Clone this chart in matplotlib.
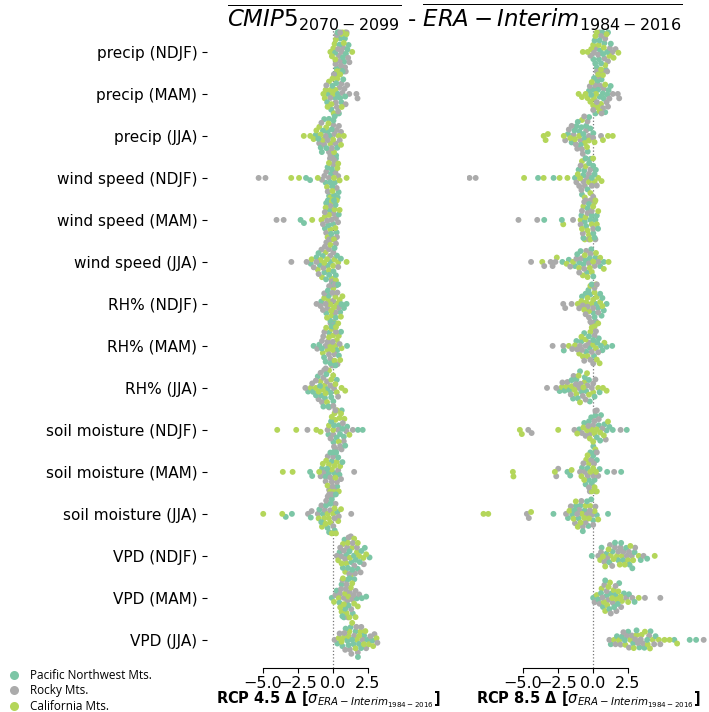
import numpy as np
import matplotlib
matplotlib.use("Agg")
import matplotlib.pyplot as plt
from matplotlib.lines import Line2D

# ------------------------------------------------------------
# Categories (top to bottom) and regions
variables = ["precip (NDJF)", "precip (MAM)", "precip (JJA)",
             "wind speed (NDJF)", "wind speed (MAM)", "wind speed (JJA)",
             "RH% (NDJF)", "RH% (MAM)", "RH% (JJA)",
             "soil moisture (NDJF)", "soil moisture (MAM)", "soil moisture (JJA)",
             "VPD (NDJF)", "VPD (MAM)", "VPD (JJA)"]
regions = ["Pacific Northwest Mts.", "Rocky Mts.", "California Mts."]
region_colors = ["#7cc6a6", "#ababab", "#b4d65a"]

# RCP 4.5 changes, one string of model values per variable
pnw_45 = [
    "0.27 0.53 0.64 0.81 0.93 0.38 0.72 1.04 0.16 0.58 0.47 0.86 1.12 0.33 0.69",
    "-0.34 0.06 0.18 0.43 0.61 -0.12 0.29 0.09 0.52 -0.41 0.24 0.74 -0.03 0.36 0.88",
    "-1.23 -0.87 -0.62 -0.37 -0.18 0.04 0.23 -0.71 -0.28 0.13 -0.46 -1.04 -0.09 0.31 -0.79",
    "-1.92 -1.63 -0.52 -0.27 -0.13 0.03 0.14 0.22 0.34 -0.19 0.41 -0.38 -0.04 0.09 -0.08",
    "-2.31 -2.07 -0.57 -0.36 -0.22 0.02 0.13 0.27 -0.12 0.19 -0.31 -0.03 0.42 -0.48 0.08",
    "-1.58 -1.17 -0.93 -0.61 -0.37 -0.16 0.04 0.29 0.57 -0.72 -0.27 0.12 -1.03 0.21 -0.49",
    "-0.83 -0.47 -0.29 -0.06 0.12 0.27 0.52 0.79 0.98 -0.18 0.03 0.21 0.38 -0.36 0.61",
    "-1.38 -0.97 -0.63 -0.27 0.04 0.31 0.58 1.01 -0.79 -0.17 0.12 0.43 -0.52 0.19 -0.08",
    "-1.77 -1.42 -1.08 -0.84 -0.57 -0.38 -0.17 0.03 0.28 -1.21 -0.68 -0.31 -0.92 -0.47 -0.12",
    "-0.32 0.04 0.17 0.42 0.63 0.78 1.02 0.27 0.51 0.08 0.69 -0.13 0.88 1.79 2.13",
    "-1.63 -1.48 -0.77 -0.52 -0.28 -0.07 0.12 0.31 0.47 -0.41 -0.18 0.02 0.23 0.38 0.68",
    "-3.37 -2.93 -1.58 -0.97 -0.72 -0.48 -0.27 -0.08 0.13 0.32 -0.83 -0.38 -0.17 0.03 0.21",
    "0.48 0.83 0.97 1.32 1.51 1.77 2.04 2.28 2.62 1.08 1.63 0.71 1.38 1.92 1.19",
    "-0.08 0.27 0.62 0.79 1.03 1.18 1.42 1.71 2.07 0.47 0.88 1.12 1.53 0.68 2.38",
    "0.32 0.68 1.03 1.27 1.62 1.87 2.23 2.47 2.83 1.12 1.48 1.79 2.02 1.37 0.91",
]
rocky_45 = [
    "0.42 0.63 0.87 1.18 0.19 0.48 0.73 0.98 0.82 0.27 0.57 1.09 0.37 0.92 0.52",
    "1.68 1.76 0.47 0.83 1.02 0.28 -0.18 0.62 0.07 0.38 0.91 1.17 0.21 0.68 -0.47",
    "-0.98 -0.63 -0.28 0.03 0.27 0.58 -0.82 -0.17 0.12 0.43 -0.52 -0.07 0.19 -0.38 0.49",
    "-5.31 -4.82 -0.78 -0.47 -0.28 -0.12 0.02 0.18 0.38 -0.21 0.11 0.27 -0.37 -0.02 -0.61",
    "-4.03 -3.52 -0.71 -0.48 -0.27 -0.09 0.04 0.22 0.37 -0.18 0.12 0.29 -0.41 -0.02 -0.58",
    "-2.97 -1.88 -1.37 -1.02 -0.68 -0.47 -0.28 0.03 0.22 -0.82 -0.08 -0.57 0.38 -1.18 -0.19",
    "-1.17 -0.88 -0.62 -0.38 -0.17 0.02 0.19 0.41 -0.71 -0.08 0.12 -0.27 0.32 -0.52 -0.03",
    "-1.12 -0.78 -0.52 -0.28 -0.07 0.12 0.33 -0.61 -0.18 0.02 0.22 -0.38 0.48 -0.69 -0.02",
    "-1.97 -1.48 -1.03 -0.68 -0.42 -0.17 0.08 -1.22 -0.78 -0.51 -0.27 0.03 -0.62 -0.88 0.37",
    "-1.82 -0.38 -0.17 0.03 0.22 0.37 0.62 0.78 0.97 1.42 0.28 0.52 0.08 0.71 0.18",
    "1.52 -0.88 -0.62 -0.37 -0.18 0.02 0.21 0.38 0.58 -0.27 -0.08 0.12 0.29 -0.52 -0.02",
    "-1.78 -1.52 -1.08 -0.82 -0.58 -0.37 -0.18 0.03 0.19 0.42 1.31 -0.48 -0.27 -0.07 0.12",
    "0.28 0.62 0.88 1.12 1.28 1.53 1.72 1.98 2.21 0.79 1.17 1.58 1.02 1.42 0.52",
    "0.18 0.52 0.78 1.02 1.21 1.38 1.62 1.88 0.68 1.08 1.31 0.92 0.58 1.48 0.97",
    "0.12 0.48 0.88 1.21 1.52 1.78 2.12 2.38 2.68 2.97 3.18 1.68 1.32 2.03 0.82",
]
cal_45 = [
    "-0.18 0.03 0.21 0.38 0.62 0.88 1.38 0.12 0.28 0.51 0.68 -0.07 0.78 0.17 0.97",
    "-0.68 -0.52 -0.28 0.02 0.18 0.41 -0.58 0.08 -0.17 0.31 0.52 -0.38 0.63 -0.03 -0.11",
    "-2.08 -1.62 -1.38 -0.97 -0.72 -0.48 -0.18 0.08 0.42 0.78 -0.88 -0.32 0.02 -1.18 0.58",
    "-2.98 -2.42 -1.08 0.98 -0.42 -0.18 0.02 0.17 0.32 0.48 -0.12 0.08 -0.28 -0.03 0.38",
    "-1.48 -0.82 -0.58 -0.38 -0.18 0.03 0.12 0.28 -0.08 0.18 -0.28 -0.02 0.48 -0.52 0.07",
    "-1.52 -1.08 -0.78 -0.52 -0.28 -0.08 0.12 0.38 0.98 -0.62 -0.18 0.02 -0.88 0.22 -0.42",
    "-0.62 -0.32 -0.08 0.12 0.28 0.48 0.68 -0.18 0.03 0.18 0.38 -0.42 0.57 0.08 -0.12",
    "-0.72 -0.38 -0.18 0.02 0.18 0.42 0.62 -0.48 -0.08 0.12 0.28 -0.28 0.52 -0.02 0.22",
    "-1.58 -1.22 -0.88 -0.58 -0.28 0.02 0.28 0.62 0.88 -0.72 -0.42 -0.12 0.18 -1.02 -0.52",
    "-3.98 -2.62 -1.18 -0.88 -0.28 0.02 0.18 0.42 0.58 0.82 0.12 0.28 0.48 -0.08 1.18",
    "-3.58 -2.88 -0.98 -0.72 -0.48 -0.28 -0.08 0.12 0.28 0.52 -0.18 0.02 0.18 -0.38 0.42",
    "-4.98 -3.62 -1.02 -0.78 -0.62 -0.38 -0.18 0.02 0.22 0.38 0.58 -0.52 -0.28 -0.08 0.12",
    "0.38 0.72 0.98 1.22 1.38 1.72 1.88 2.18 0.88 1.28 1.52 0.62 1.08 1.78 2.38",
    "0.08 0.42 0.62 0.88 1.12 1.28 1.52 1.78 0.72 0.98 1.18 0.78 0.52 1.38 1.62",
    "0.42 0.78 1.12 1.38 1.72 1.98 2.32 2.58 2.88 3.12 1.62 1.88 1.18 2.22 0.62",
]

# RCP 8.5 changes
pnw_85 = [
    "0.03 0.28 0.52 0.68 0.92 1.08 0.17 0.43 0.58 0.82 1.02 0.12 0.47 0.73 1.28",
    "-0.28 0.04 0.32 0.48 0.78 1.03 1.27 0.18 0.62 0.88 0.37 0.08 0.71 1.12 -0.12",
    "-1.78 -1.52 -1.18 -0.97 -0.82 -0.58 -0.37 -0.18 0.03 -1.32 -0.88 -0.48 -0.68 -1.08 -0.27",
    "-3.92 -2.81 -1.28 -1.02 -0.78 -0.62 -0.38 -0.17 0.02 0.21 -0.68 -0.27 -0.52 -0.08 0.12",
    "-3.48 -2.22 -0.82 -0.58 -0.37 -0.18 0.03 0.18 0.37 -0.48 -0.28 -0.08 0.12 -0.68 0.28",
    "-2.18 -1.72 -1.28 -0.98 -0.68 -0.42 -0.12 0.18 0.52 0.78 -0.88 -0.52 -0.22 0.03 -1.12",
    "-0.78 -0.52 -0.18 0.03 0.22 0.38 0.62 0.78 0.98 -0.32 0.12 0.28 0.52 -0.08 0.68",
    "-2.08 -1.18 -0.82 -0.48 -0.22 0.08 0.42 0.68 0.98 1.38 -0.62 -0.28 0.02 0.32 0.58",
    "-2.38 -2.02 -1.68 -1.42 -1.08 -0.82 -0.48 -0.22 0.12 0.48 -1.18 -0.92 -0.58 -1.52 -0.28",
    "-0.98 -0.62 -0.28 0.03 0.18 0.42 0.58 0.82 0.98 1.18 1.42 2.42 -0.12 0.28 0.52",
    "-1.82 -1.62 -0.78 -0.52 -0.28 -0.08 0.12 0.28 0.48 1.02 2.02 -0.38 -0.18 0.02 0.18",
    "-2.82 -1.78 -1.48 -1.22 -0.88 -0.58 -0.32 0.02 0.28 1.08 -1.02 -0.72 -0.42 -0.12 -1.32",
    "-0.08 0.62 0.98 1.42 1.82 2.18 2.62 2.98 3.42 3.88 1.18 1.58 2.02 2.38 2.82",
    "0.02 0.38 0.72 0.98 1.28 1.62 1.88 2.22 2.58 2.98 0.88 1.18 1.52 0.58 1.78",
    "1.28 1.72 2.08 2.52 2.88 3.32 3.68 4.12 4.48 5.82 6.92 7.38 2.28 3.12 3.88",
]
rocky_85 = [
    "-0.18 0.22 0.48 0.82 1.08 1.38 1.62 0.28 0.58 0.88 1.22 0.38 0.68 1.02 0.08",
    "1.78 1.88 -0.22 0.18 0.52 0.78 1.08 1.42 0.38 0.72 0.98 0.28 0.62 1.18 0.02",
    "-1.98 -1.72 -1.38 -1.12 -0.88 -0.72 -0.48 -0.28 0.02 0.58 -1.22 -0.78 -0.38 -1.52 -0.62",
    "-8.82 -8.38 -1.18 -0.98 -0.82 -0.58 -0.42 -0.18 0.02 0.28 -0.68 -0.52 -0.28 -0.08 -0.88",
    "-5.32 -3.98 -1.42 -0.88 -0.62 -0.38 -0.18 0.02 0.18 -0.52 -0.28 -0.08 0.12 -0.72 -0.78",
    "-4.42 -3.48 -3.02 -2.88 -2.68 -1.62 -1.18 -0.82 -0.48 -0.18 0.12 0.38 -0.62 -0.28 -0.98",
    "-2.12 -1.98 -1.52 -0.98 -0.72 -0.38 -0.18 0.02 0.22 0.38 -0.52 -0.08 0.12 0.28 -0.28",
    "-2.88 -2.12 -1.48 -1.12 -0.78 -0.52 -0.28 -0.08 0.12 0.38 -0.62 -0.18 0.02 0.22 -0.92",
    "-3.28 -2.62 -2.18 -1.82 -1.38 -1.02 -0.72 -0.38 -0.08 0.18 -1.22 -0.88 -0.52 -1.58 0.02",
    "-4.38 -4.62 -1.32 -0.78 -0.52 -0.22 0.02 0.18 0.42 0.68 0.92 1.98 0.12 -0.32 0.28",
    "-2.62 -2.48 -0.92 -0.58 -0.38 -0.22 0.02 0.18 0.38 1.52 -0.28 -0.12 0.08 -0.68 0.28",
    "-4.58 -4.72 -1.92 -1.58 -1.28 -0.98 -0.72 -0.42 -0.08 0.18 -0.82 -0.52 -0.22 0.02 -1.12",
    "0.38 0.82 1.22 1.58 1.98 2.42 2.78 3.02 3.62 1.02 1.38 1.82 2.18 0.58 2.58",
    "0.12 0.48 0.82 1.08 1.42 1.68 2.02 2.38 2.82 3.72 4.82 0.98 1.28 0.68 1.62",
    "1.18 1.62 1.98 2.42 2.78 3.22 3.58 4.02 4.38 4.82 7.92 2.58 3.02 3.42 2.18",
]
cal_85 = [
    "-0.72 -0.38 0.02 0.28 0.62 0.88 1.18 1.48 1.82 -0.12 0.42 0.78 0.98 0.18 0.58",
    "-1.02 -0.78 -0.52 -0.18 0.08 0.32 0.58 0.88 -0.38 0.02 0.22 0.48 -0.08 0.38 0.72",
    "-3.52 -3.38 -3.22 -2.08 -1.62 -0.98 -0.58 -0.28 0.12 0.72 1.08 1.42 -0.78 -0.42 -1.28",
    "-4.92 -3.52 -2.38 -1.82 -1.08 -0.78 -0.52 -0.18 0.12 0.38 0.62 -0.58 -0.28 -0.92 0.02",
    "-2.12 -0.88 -0.68 -0.52 -0.28 -0.08 0.12 0.28 -0.58 -0.38 -0.18 0.02 0.18 -0.78 0.38",
    "-3.62 -2.58 -1.88 -1.42 -0.98 -0.72 -0.38 -0.08 0.22 0.52 0.78 1.12 -0.58 -0.22 0.02",
    "-1.08 -0.82 -0.48 -0.28 -0.12 0.12 0.28 0.52 0.68 -0.62 -0.18 0.02 0.22 0.38 -0.38",
    "-1.72 -1.28 -0.98 -0.72 -0.38 -0.18 0.02 0.22 0.48 0.82 -0.52 -0.08 0.12 0.28 -0.82",
    "-2.22 -1.88 -1.52 -1.18 -0.92 -0.58 -0.28 0.02 0.38 0.72 0.98 -1.02 -0.68 -0.42 -1.32",
    "-5.08 -5.22 -2.48 -1.12 -0.68 -0.42 -0.08 0.12 0.28 0.52 0.78 1.08 -0.22 0.18 0.02",
    "-5.72 -5.68 -2.72 -1.52 -0.82 -0.48 -0.28 -0.08 0.12 0.28 -0.62 -0.18 0.02 0.22 -0.38",
    "-7.82 -7.48 -4.42 -1.68 -1.38 -1.08 -0.78 -0.52 -0.18 0.12 0.38 -0.88 -0.62 -0.28 -1.22",
    "0.52 0.88 1.28 1.72 2.08 2.52 2.88 3.28 4.42 1.12 1.48 1.92 2.28 0.72 2.68",
    "0.28 0.62 0.88 1.22 1.48 1.82 2.08 2.52 3.28 1.02 1.38 0.78 1.72 1.12 1.98",
    "1.52 1.88 2.32 2.68 3.12 3.48 3.92 4.28 4.72 5.12 5.48 6.02 2.92 3.72 4.08",
]

xticks = [-5.0, -2.5, 0.0, 2.5]
xlim = (-9.0, 8.3)


# ------------------------------------------------------------
def swarm_offsets(vals_px, sep, limit):
    """beeswarm offsets (pixels) with the points sorted by value"""
    off = np.zeros(len(vals_px))
    placed = []
    for i in np.argsort(vals_px, kind="stable"):
        x = vals_px[i]
        near = [(qx, qy) for qx, qy in placed if abs(qx - x) < sep]
        cands = [0.0]
        for qx, qy in near:
            h = np.sqrt(sep ** 2 - (qx - x) ** 2)
            cands += [qy + h, qy - h]
        cands.sort(key=abs)
        for c in cands:
            if all((qx - x) ** 2 + (qy - c) ** 2 >= sep ** 2 - 1e-6 for qx, qy in near):
                break
        placed.append((x, c))
        off[i] = np.clip(c, -limit, limit)
    return off


def draw_panel(ax, pnw, rocky, cal):
    ax.set_xlim(*xlim)
    ax.set_ylim(14.67, -0.57)
    tr = ax.transData
    x_px = tr.transform((1, 0))[0] - tr.transform((0, 0))[0]
    y_px = abs(tr.transform((0, 1))[1] - tr.transform((0, 0))[1])
    ax.axvline(0, color="#777777", linestyle=":", linewidth=0.9, zorder=0)
    for k in range(len(variables)):
        sets = [np.array(s[k].split(), float) for s in (pnw, rocky, cal)]
        vals, cols = [], []
        n = max(len(a) for a in sets)
        for j in range(n):
            for r, a in enumerate(sets):
                if j < len(a):
                    vals.append(a[j])
                    cols.append(region_colors[r])
        vals = np.array(vals)
        off = swarm_offsets(vals * x_px, 4.6, 19.5) / y_px
        ax.scatter(vals, k + off, s=18, c=cols, linewidths=0, zorder=2)
    ax.set_xticks(xticks)
    ax.set_xticklabels([f"{t:.1f}".replace("-", "\u2212") for t in xticks], fontsize=11.5)
    ax.tick_params(axis="x", pad=2)
    ax.spines["bottom"].set_bounds(xticks[0], xticks[-1])
    for side in ["top", "right", "left"]:
        ax.spines[side].set_visible(False)


fig = plt.figure(figsize=(7.09, 7.12), dpi=100)
W, H = 709.0, 712.0
ax1 = fig.add_axes([207 / W, 1 - 668 / H, 242 / W, 640 / H])
ax2 = fig.add_axes([467 / W, 1 - 668 / H, 242 / W, 640 / H])

draw_panel(ax1, pnw_45, rocky_45, cal_45)
draw_panel(ax2, pnw_85, rocky_85, cal_85)

ax1.set_yticks(range(len(variables)))
ax1.set_yticklabels(variables, fontsize=11)
ax2.set_yticks([])

sig = r"[$\sigma_{ERA-Interim_{1984-2016}}$]"
ax1.set_xlabel("RCP 4.5 \u0394 " + sig, fontsize=10.5, fontweight="bold", labelpad=-1)
ax2.set_xlabel("RCP 8.5 \u0394 " + sig, fontsize=10.5, fontweight="bold", labelpad=-1)

fig.text(455 / W, 1 - 2 / H,
         r"$\overline{CMIP5_{2070-2099}}$ - $\overline{ERA-Interim_{1984-2016}}$",
         ha="center", va="top", fontsize=16.5)

handles = [Line2D([], [], marker="o", linestyle="", markersize=6.5,
                  markerfacecolor=c, markeredgewidth=0) for c in region_colors]
fig.legend(handles, regions, loc="lower left", bbox_to_anchor=(-0.012, -0.016),
           frameon=False, handletextpad=0.4, labelspacing=0.2,
           prop={"family": "Open Sans", "size": 8.5})

fig.savefig("out.png", dpi=100)
